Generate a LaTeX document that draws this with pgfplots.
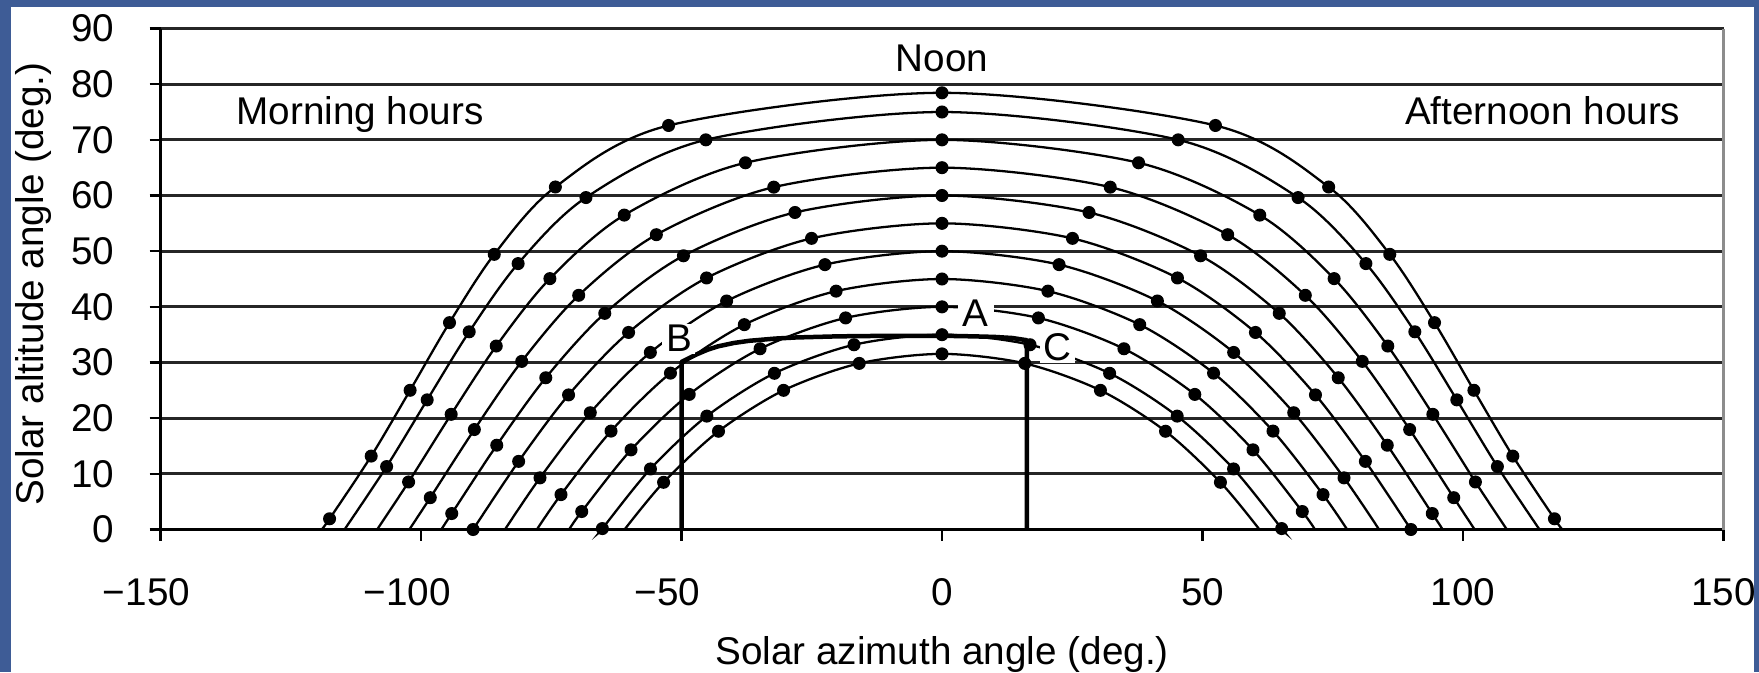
\documentclass[border=0pt]{standalone}
\usepackage{fontspec}
\setmainfont{Liberation Sans}
\usepackage{pgfplots}
\usepackage{pgfplotstable}
\pgfplotsset{compat=1.18}
\definecolor{frameblue}{RGB}{62,92,150}

% Sun paths at latitude 35 N: azimuth (deg) vs altitude (deg),
% hourly positions plus sunrise/sunset, one table per declination.
% declination +23.45
\pgfplotstableread{
x y
-119.07 0
-117.55 1.93
-109.56 13.19
-102.09 25.01
-94.53 37.16
-85.94 49.43
-74.21 61.53
-52.48 72.58
0 78.45
52.48 72.58
74.21 61.53
85.94 49.43
94.53 37.16
102.09 25.01
109.56 13.19
117.55 1.93
119.07 0
}\pathA
% declination +20
\pgfplotstableread{
x y
-114.68 0
-106.60 11.31
-98.81 23.29
-90.75 35.52
-81.36 47.77
-68.34 59.63
-45.33 70.00
0 75.00
45.33 70.00
68.34 59.63
81.36 47.77
90.75 35.52
98.81 23.29
106.60 11.31
114.68 0
}\pathB
% declination +15
\pgfplotstableread{
x y
-108.42 0
-102.38 8.54
-94.21 20.69
-85.56 32.96
-75.26 45.07
-60.99 56.48
-37.73 65.88
0 70.00
37.73 65.88
60.99 56.48
75.26 45.07
85.56 32.96
94.21 20.69
102.38 8.54
108.42 0
}\pathC
% declination +10
\pgfplotstableread{
x y
-102.24 0
-98.22 5.72
-89.76 17.96
-80.67 30.20
-69.73 42.07
-54.83 52.96
-32.29 61.50
0 65.00
32.29 61.50
54.83 52.96
69.73 42.07
80.67 30.20
89.76 17.96
98.22 5.72
102.24 0
}\pathD
% declination +5
\pgfplotstableread{
x y
-96.11 0
-94.10 2.87
-85.46 15.14
-76.05 27.26
-64.73 38.83
-49.63 49.17
-28.22 56.95
0 60.00
28.22 56.95
49.63 49.17
64.73 38.83
76.05 27.26
85.46 15.14
94.10 2.87
96.11 0
}\pathE
% declination 0 (equinox)
\pgfplotstableread{
x y
-90.00 0
-81.26 12.24
-71.68 24.18
-60.16 35.40
-45.19 45.19
-25.04 52.30
0 55.00
25.04 52.30
45.19 45.19
60.16 35.40
71.68 24.18
81.26 12.24
90.00 0
}\pathF
% declination -5
\pgfplotstableread{
x y
-83.89 0
-77.16 9.28
-67.51 20.98
-55.98 31.81
-41.34 41.05
-22.47 47.58
0 50.00
22.47 47.58
41.34 41.05
55.98 31.81
67.51 20.98
77.16 9.28
83.89 0
}\pathG
% declination -10
\pgfplotstableread{
x y
-77.76 0
-73.13 6.27
-63.53 17.68
-52.12 28.09
-37.95 36.80
-20.33 42.82
0 45.00
20.33 42.82
37.95 36.80
52.12 28.09
63.53 17.68
73.13 6.27
77.76 0
}\pathH
% declination -15
\pgfplotstableread{
x y
-71.58 0
-69.15 3.23
-59.69 14.31
-48.52 24.27
-34.92 32.47
-18.50 38.01
0 40.00
18.50 38.01
34.92 32.47
48.52 24.27
59.69 14.31
69.15 3.23
71.58 0
}\pathI
% declination -20
\pgfplotstableread{
x y
-65.32 0
-65.19 0.17
-55.96 10.88
-45.14 20.37
-32.17 28.06
-16.89 33.19
0 35.00
16.89 33.19
32.17 28.06
45.14 20.37
55.96 10.88
65.19 0.17
65.32 0
}\pathJ
% declination -23.45
\pgfplotstableread{
x y
-60.93 0
-53.44 8.48
-42.90 17.65
-30.41 25.00
-15.89 29.84
0 31.55
15.89 29.84
30.41 25.00
42.90 17.65
53.44 8.48
60.93 0
}\pathK
% obstruction outline B-C
\pgfplotstableread{
x y
-50.0 0
-50.0 30.1
-48.5 30.8
-47.0 31.5
-45.0 32.3
-43.0 32.9
-40.0 33.5
-37.0 33.9
-32.0 34.3
-28.0 34.5
-20.0 34.7
-10.0 34.8
0.0 34.8
6.0 34.7
10.0 34.6
13.5 34.4
16.3 34.0
16.3 0
}\outlineBC

\pgfplotsset{
  sunpath/.style={black, line width=0.65pt, smooth, no marks},
  hourdots/.style={black, only marks, mark=*, mark size=1.65pt},
}

\begin{document}
\begin{tikzpicture}[x=1mm,y=1mm]
\fill[frameblue] (0,0) rectangle (175.9,67.2);
\fill[white] (1.1,0) rectangle (175.4,66.47);
\useasboundingbox (0,0) rectangle (175.9,67.2);
\begin{axis}[
  at={(16.05mm,14.25mm)}, anchor=south west,
  scale only axis, width=156.3mm, height=50.1mm,
  xmin=-150, xmax=150, ymin=0, ymax=90,
  clip=false,
  axis line style={draw=none},
  xtick pos=left, ytick pos=left,
  xtick={-150,-100,-50,0,50,100,150},
  xticklabels={−150\kern2.8mm,−100\kern2.8mm,−50\kern2.8mm,0,50,100,150},
  ytick={0,10,...,90},
  yticklabels={0,10,20,30,40,50,60,70,80,90},
  ymajorgrids,
  grid style={black!85, line width=0.3mm},
  tick style={black, line width=0.22mm},
  major tick length=1.1mm, tick align=outside,
  ticklabel style={font=\fontsize{11}{13}\selectfont, inner sep=0pt},
  xticklabel style={anchor=north, yshift=-3.7mm},
  yticklabel style={anchor=east, xshift=-3.45mm},
  label style={font=\fontsize{11}{13}\selectfont, inner sep=0pt},
  xlabel={Solar azimuth angle (deg.)},
  xlabel style={at={(axis description cs:0.5,-0.2695)}, anchor=base},
  ylabel={Solar altitude angle (deg.)},
  ylabel style={at={(axis description cs:-0.0748,0.49)}, anchor=base},
]
% axis frame: black left and bottom, light grey right edge
\draw[black, line width=0.28mm] (axis cs:-150,90) -- (axis cs:-150,0) -- (axis cs:150,0);
\draw[black!45, line width=0.22mm] (axis cs:150,0) -- (axis cs:150,90);

\addplot[sunpath] table {\pathA};
\addplot[hourdots, restrict y to domain=0.05:100] table {\pathA};
\addplot[sunpath] table {\pathB};
\addplot[hourdots, restrict y to domain=0.05:100] table {\pathB};
\addplot[sunpath] table {\pathC};
\addplot[hourdots, restrict y to domain=0.05:100] table {\pathC};
\addplot[sunpath] table {\pathD};
\addplot[hourdots, restrict y to domain=0.05:100] table {\pathD};
\addplot[sunpath] table {\pathE};
\addplot[hourdots, restrict y to domain=0.05:100] table {\pathE};
\addplot[sunpath] table {\pathF};
\addplot[hourdots] table {\pathF};
\addplot[sunpath] table {\pathG};
\addplot[hourdots, restrict y to domain=0.05:100] table {\pathG};
\addplot[sunpath] table {\pathH};
\addplot[hourdots, restrict y to domain=0.05:100] table {\pathH};
\addplot[sunpath] table {\pathI};
\addplot[hourdots, restrict y to domain=0.05:100] table {\pathI};
\addplot[sunpath] table {\pathJ};
\addplot[hourdots, restrict y to domain=0.05:100] table {\pathJ};
\addplot[sunpath] table {\pathK};
\addplot[hourdots, restrict y to domain=0.05:100] table {\pathK};

\addplot[black, line width=0.45mm, line join=round] table {\outlineBC};

\node[anchor=base, font=\fontsize{11}{13}\selectfont] at (axis cs:-111.7,72.7) {Morning hours};
\node[anchor=base, font=\fontsize{11}{13}\selectfont] at (axis cs:115.3,72.7) {Afternoon hours};
\node[anchor=base, font=\fontsize{11}{13}\selectfont] at (axis cs:0,82.2) {Noon};
\node[fill=white, inner xsep=1.5pt, inner ysep=0.5pt, font=\fontsize{11}{13}\selectfont] at (axis cs:6.5,38.8) {A};
\node[fill=white, inner xsep=1pt, inner ysep=0.5pt, font=\fontsize{11}{13}\selectfont] at (axis cs:-50.5,34.3) {B};
\node[fill=white, inner xsep=1pt, inner ysep=0.5pt, font=\fontsize{11}{13}\selectfont] at (axis cs:22.2,32.7) {C};
\end{axis}
\end{tikzpicture}
\end{document}
